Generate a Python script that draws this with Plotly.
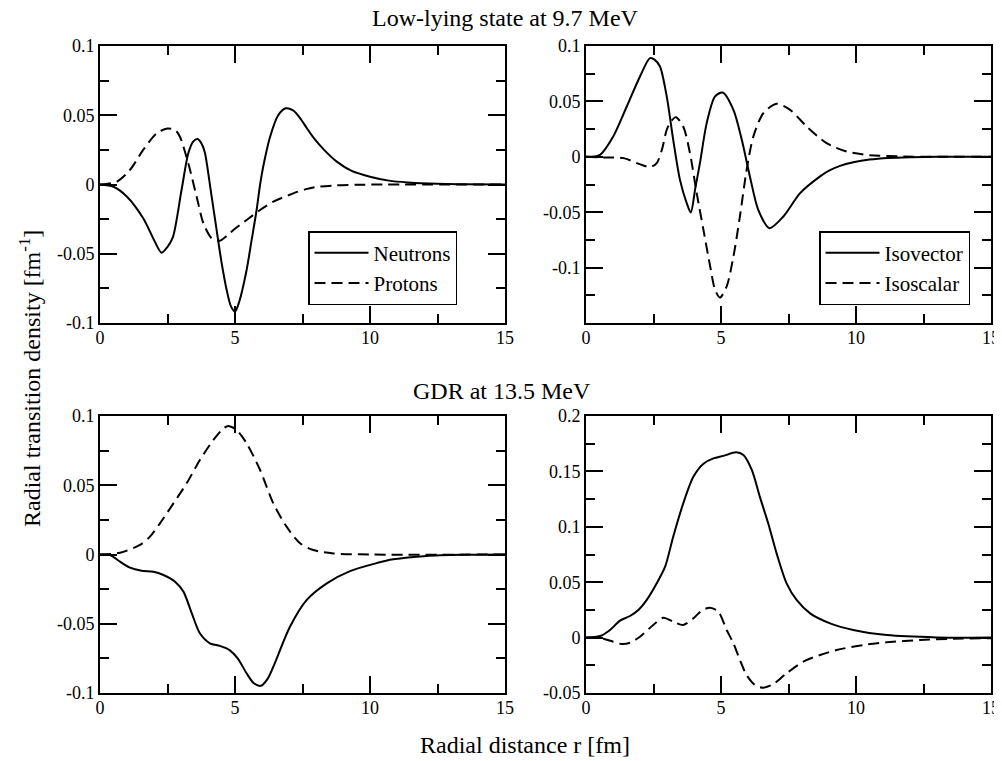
import plotly.graph_objects as go

# ---------------- data ----------------
# Low-lying state at 9.7 MeV : neutrons / protons
r_ll_n = [0, 0.5, 1.0, 1.6, 2.0, 2.28, 2.5, 2.7, 3.02, 3.27, 3.45, 3.62, 3.8, 3.89, 4.1, 4.32, 4.5, 4.69,
          4.85, 5.0, 5.15, 5.43, 5.6, 5.8, 5.93, 6.07, 6.3, 6.6, 6.88, 7.15, 7.41, 7.65, 7.9, 8.3, 8.77, 9.3,
          10.0, 10.7, 11.4, 12.5, 13.5, 15]
rho_ll_n = [0, -0.0016, -0.0088, -0.0244, -0.040, -0.0492, -0.045, -0.038, -0.004, 0.0225, 0.031, 0.0328,
            0.028, 0.0225, -0.004, -0.033, -0.056, -0.076, -0.088, -0.0918, -0.085, -0.0617, -0.042, -0.0184,
            0.0, 0.0153, 0.0345, 0.050, 0.055, 0.0535, 0.048, 0.041, 0.034, 0.025, 0.0165, 0.010, 0.0056,
            0.0028, 0.0015, 0.0005, 0.0002, 0]
r_ll_p = [0, 0.62, 1.11, 1.6, 2.1, 2.5, 2.8, 2.96, 3.27, 3.58, 3.83, 4.14, 4.44, 4.7, 4.94, 5.43, 5.93,
          6.42, 7.16, 7.6, 8.0, 8.7, 9.5, 10.5, 15]
rho_ll_p = [0, 0.002, 0.0105, 0.025, 0.037, 0.0405, 0.039, 0.0345, 0.0153, -0.0088, -0.028, -0.0389,
            -0.0406, -0.037, -0.0329, -0.0256, -0.0184, -0.0124, -0.0064, -0.0035, -0.0018, -0.0007,
            -0.0002, 0, 0]

# Low-lying state : isovector / isoscalar
r_ll_iv = [0, 0.52, 1.01, 1.51, 2.0, 2.37, 2.55, 2.74, 2.99, 3.23, 3.48, 3.73, 3.88, 4.05, 4.22, 4.47, 4.78,
           5.06, 5.46, 5.77, 6.07, 6.38, 6.79, 7.31, 7.93, 8.67, 9.0, 9.41, 9.9, 10.5, 11.2, 12, 13, 15]
rho_ll_iv = [0, 0.0018, 0.0184, 0.0454, 0.0725, 0.089, 0.0875, 0.0815, 0.0545, 0.0153, -0.0208, -0.0418,
             -0.0502, -0.028, -0.0057, 0.0304, 0.0545, 0.058, 0.0424, 0.0153, -0.0177, -0.0478, -0.0644,
             -0.0539, -0.0328, -0.0177, -0.0125, -0.0082, -0.005, -0.0025, -0.001, -0.0003, 0, 0]
r_ll_is = [0, 0.65, 1.39, 1.89, 2.37, 2.62, 2.81, 2.99, 3.15, 3.33, 3.6, 3.85, 4.1, 4.35, 4.6, 4.78, 4.96,
           5.21, 5.46, 5.7, 5.95, 6.2, 6.57, 7.06, 7.56, 8.17, 8.91, 9.65, 10.5, 11.77, 13, 15]
rho_ll_is = [0, -0.0006, -0.0012, -0.0057, -0.0093, -0.0057, 0.0063, 0.0244, 0.032, 0.0358, 0.0274, 0.0033,
             -0.0328, -0.0659, -0.099, -0.12, -0.127, -0.117, -0.09, -0.0539, -0.0117, 0.0184, 0.0394,
             0.0478, 0.0424, 0.0274, 0.0123, 0.0048, 0.0015, 0.0003, 0, 0]

# GDR at 13.5 MeV : neutrons / protons
r_gdr_n = [0, 0.37, 0.74, 1.11, 1.54, 1.98, 2.35, 2.78, 3.09, 3.4, 3.7, 4.07, 4.44, 4.8, 5.1, 5.43, 5.7,
           5.96, 6.2, 6.42, 7.04, 7.65, 8.4, 9.26, 10.25, 10.86, 12.1, 13.5, 15]
rho_gdr_n = [0, -0.0004, -0.0052, -0.0095, -0.0117, -0.0124, -0.0148, -0.0196, -0.0268, -0.0425, -0.0569,
             -0.0641, -0.066, -0.069, -0.075, -0.0858, -0.093, -0.0948, -0.09, -0.081, -0.052, -0.0329,
             -0.0208, -0.012, -0.0062, -0.0035, -0.001, -0.0002, 0]
r_gdr_p = [0, 0.74, 1.48, 1.85, 2.22, 2.72, 3.21, 3.7, 4.2, 4.57, 4.75, 5.06, 5.43, 5.93, 6.42, 6.91, 7.41,
           7.9, 8.64, 10, 15]
rho_gdr_p = [0, 0.0013, 0.0069, 0.0129, 0.0225, 0.0369, 0.0514, 0.0682, 0.0827, 0.091, 0.0928, 0.0899,
             0.0803, 0.061, 0.0369, 0.0201, 0.0081, 0.0032, 0.0008, 0, 0]

# GDR : isovector / isoscalar
r_gdr_iv = [0, 0.52, 0.89, 1.26, 1.63, 1.94, 2.25, 2.62, 2.93, 3.23, 3.6, 3.98, 4.35, 4.72, 5.09, 5.56,
            5.83, 6.14, 6.44, 6.75, 7.06, 7.43, 7.8, 8.3, 9.04, 9.9, 11.14, 12.99, 15]
rho_gdr_iv = [0, 0.0014, 0.0069, 0.0153, 0.0195, 0.0249, 0.034, 0.049, 0.064, 0.0911, 0.121, 0.1453,
              0.157, 0.1618, 0.164, 0.1672, 0.1648, 0.1513, 0.127, 0.103, 0.076, 0.049, 0.034, 0.0219,
              0.0129, 0.0069, 0.0023, 0.0002, 0]
r_gdr_is = [0, 0.64, 1.01, 1.32, 1.63, 2.0, 2.49, 2.86, 3.23, 3.6, 3.98, 4.28, 4.59, 4.9, 5.21, 5.46, 5.7,
            5.95, 6.26, 6.57, 6.94, 7.43, 8.05, 8.67, 9.28, 10.27, 11.14, 12.37, 13.6, 15]
rho_gdr_is = [0, -0.001, -0.0037, -0.0058, -0.0046, 0.0008, 0.0114, 0.018, 0.0144, 0.0114, 0.0174, 0.0243,
              0.027, 0.0234, 0.0069, -0.0052, -0.0202, -0.0339, -0.0428, -0.0452, -0.0419, -0.0322,
              -0.0217, -0.0157, -0.0112, -0.0067, -0.0043, -0.0022, -0.001, -0.0005]

# tick labels
x_ticks = [0, 5, 10, 15]
x_minor = [2.5, 7.5, 12.5]
y_ticks_a = [-0.1, -0.05, 0, 0.05, 0.1]
y_text_a = ["-0.1", "-0.05", "0", "0.05", "0.1"]
y_minor_a = [-0.075, -0.025, 0.025, 0.075]
y_ticks_b = [-0.1, -0.05, 0, 0.05, 0.1]
y_text_b = ["-0.1", "-0.05", "0", "0.05", "0.1"]
y_minor_b = [-0.125, -0.075, -0.025, 0.025, 0.075]
y_ticks_d = [-0.05, 0, 0.05, 0.1, 0.15, 0.2]
y_text_d = ["-0.05", "0", "0.05", "0.1", "0.15", "0.2"]
y_minor_d = [-0.025, 0.025, 0.075, 0.125, 0.175]

names_np = ["Neutrons", "Protons"]
names_ivs = ["Isovector", "Isoscalar"]

# ---------------- figure ----------------
W, H = 1002, 761
OFF = 8  # the page body margin shifts the figure by this many pixels
FONT = "Liberation Serif, 'Times New Roman', Times, 'DejaVu Serif', serif"
fig = go.Figure()

DASH = "11px,6px"


def add_line(x, y, xa, ya, name, dash, legend, show):
    fig.add_trace(go.Scatter(
        x=x, y=y, mode="lines", name=name, xaxis=xa, yaxis=ya,
        line=dict(color="black", width=2, dash=dash, shape="spline", smoothing=0.8),
        showlegend=show, legend=legend, hoverinfo="skip"))


add_line(r_ll_n, rho_ll_n, "x", "y", names_np[0], "solid", "legend", True)
add_line(r_ll_p, rho_ll_p, "x", "y", names_np[1], DASH, "legend", True)
add_line(r_ll_iv, rho_ll_iv, "x2", "y2", names_ivs[0], "solid", "legend2", True)
add_line(r_ll_is, rho_ll_is, "x2", "y2", names_ivs[1], DASH, "legend2", True)
add_line(r_gdr_n, rho_gdr_n, "x3", "y3", names_np[0], "solid", "legend", False)
add_line(r_gdr_p, rho_gdr_p, "x3", "y3", names_np[1], DASH, "legend", False)
add_line(r_gdr_iv, rho_gdr_iv, "x4", "y4", names_ivs[0], "solid", "legend2", False)
add_line(r_gdr_is, rho_gdr_is, "x4", "y4", names_ivs[1], DASH, "legend2", False)


def fx(p):
    return (p - OFF) / W


def fy(p):
    return 1 - (p - OFF) / H


tickfont = dict(family=FONT, size=18, color="black")


def xaxis(dom, anchor):
    return dict(domain=dom, anchor=anchor, range=[0, 15], tickmode="array", tickvals=x_ticks,
                ticks="inside", ticklen=17, tickwidth=2, tickcolor="black",
                minor=dict(tickmode="array", tickvals=x_minor, ticks="inside", ticklen=9,
                           tickwidth=2, tickcolor="black"),
                showline=True, linewidth=2, linecolor="black", mirror="ticks",
                showgrid=False, zeroline=False, tickfont=tickfont, automargin=False,
                ticklabelstandoff=-3)


def yaxis(dom, anchor, rng, tv, tt, mv):
    return dict(domain=dom, anchor=anchor, range=rng, tickmode="array", tickvals=tv, ticktext=tt,
                ticks="inside", ticklen=17, tickwidth=2, tickcolor="black",
                minor=dict(tickmode="array", tickvals=mv, ticks="inside", ticklen=9,
                           tickwidth=2, tickcolor="black"),
                showline=True, linewidth=2, linecolor="black", mirror="ticks",
                showgrid=False, zeroline=False, tickfont=tickfont, automargin=False)


XL = [fx(100), fx(505)]
XR = [fx(586), fx(991)]
YT = [fy(323), fy(46)]
YB = [fy(693), fy(416)]

legend_style = dict(bgcolor="white", bordercolor="black", borderwidth=1.5,
                    font=dict(family=FONT, size=21, color="black"),
                    xanchor="right", yanchor="bottom", tracegroupgap=0, itemwidth=54)

fig.update_layout(
    width=W, height=H,
    margin=dict(l=0, r=0, t=0, b=0, autoexpand=False),
    paper_bgcolor="white", plot_bgcolor="white",
    font=dict(family=FONT, color="black"),
    xaxis=xaxis(XL, "y"), yaxis=yaxis(YT, "x", [-0.1, 0.1], y_ticks_a, y_text_a, y_minor_a),
    xaxis2=xaxis(XR, "y2"), yaxis2=yaxis(YT, "x2", [-0.15, 0.1], y_ticks_b, y_text_b, y_minor_b),
    xaxis3=xaxis(XL, "y3"), yaxis3=yaxis(YB, "x3", [-0.1, 0.1], y_ticks_a, y_text_a, y_minor_a),
    xaxis4=xaxis(XR, "y4"), yaxis4=yaxis(YB, "x4", [-0.05, 0.2], y_ticks_d, y_text_d, y_minor_d),
    legend=dict(x=fx(457), y=fy(305), **legend_style),
    legend2=dict(x=fx(970), y=fy(305), **legend_style),
    showlegend=True,
)

ann_font = dict(family=FONT, size=24, color="black")
fig.add_annotation(text="Low-lying state at 9.7 MeV", x=fx(505), y=fy(18), xref="paper", yref="paper",
                   showarrow=False, font=ann_font, xanchor="center", yanchor="middle")
fig.add_annotation(text="GDR at 13.5 MeV", x=fx(502), y=fy(391), xref="paper", yref="paper",
                   showarrow=False, font=ann_font, xanchor="center", yanchor="middle")
fig.add_annotation(text="Radial distance r [fm]", x=fx(525), y=fy(745), xref="paper", yref="paper",
                   showarrow=False, font=ann_font, xanchor="center", yanchor="middle")
fig.add_annotation(text="Radial transition density [fm<sup>-1</sup>]", x=fx(30), y=fy(379),
                   xref="paper", yref="paper", textangle=-90,
                   showarrow=False, font=ann_font, xanchor="center", yanchor="middle")

fig.write_html("out.html")
